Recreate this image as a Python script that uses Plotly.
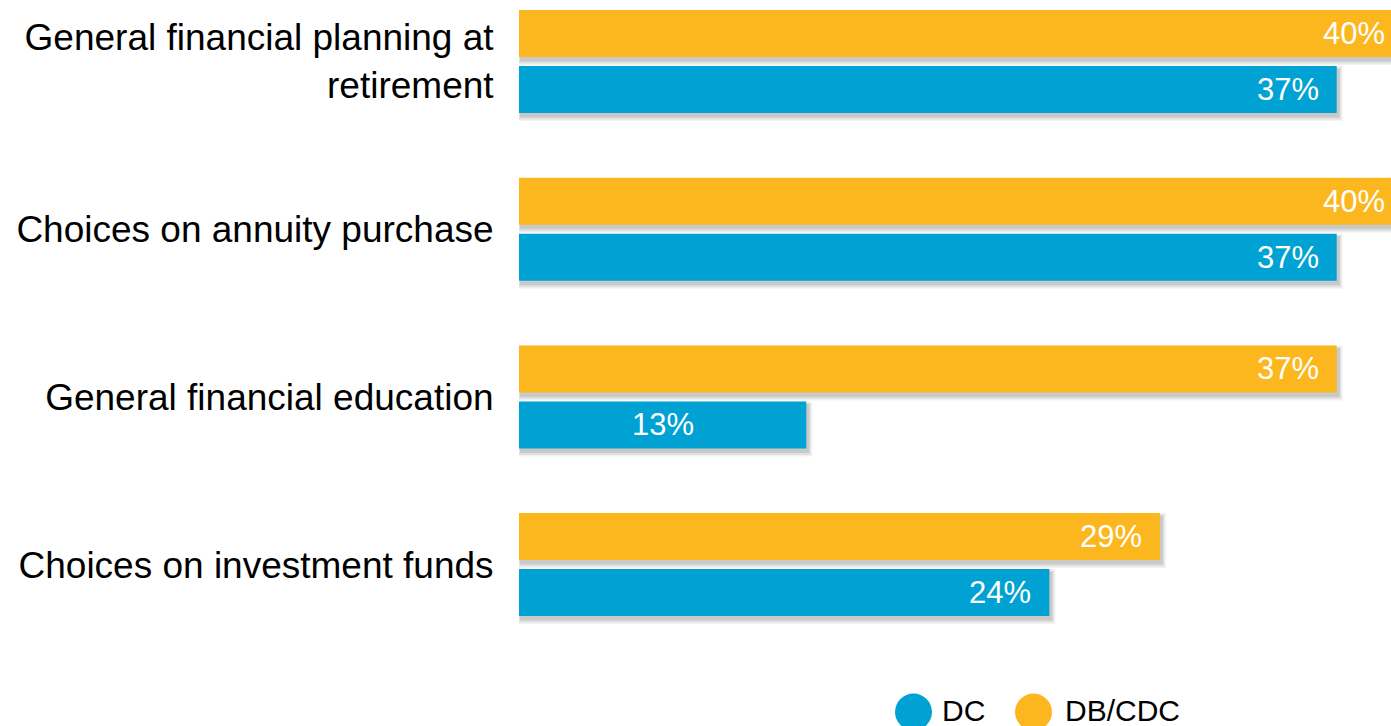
import plotly.graph_objects as go

# Categories listed bottom-to-top as they appear on the y axis
categories = [
    "Choices on investment funds",
    "General financial education",
    "Choices on annuity purchase",
    "General financial planning at<br>retirement",
]
series_names = ["DC", "DB/CDC"]
dc_values = [24, 13, 37, 37]
db_cdc_values = [29, 37, 40, 40]

BLUE = "#00A2D3"
ORANGE = "#FDB71E"
FONT = "Arial, 'Liberation Sans', sans-serif"

W, H = 1391, 726
M_L, M_R, M_T, M_B = 519, 0, 0, 76
PLOT_W = W - M_L - M_R
PLOT_H = H - M_T - M_B

PX_PER_PCT = 22.1          # horizontal scale
PX_PER_CAT = 167.7         # distance between category rows
TOP_ROW_PX = 61.5          # centre of the top row from the plot top
BAR_PX = 47
GAP_PX = 9
LABEL_PAD = 16

x_max = PLOT_W / PX_PER_PCT
n = len(categories)
y_top = (n - 1) + TOP_ROW_PX / PX_PER_CAT
y_bottom = (n - 1) - (PLOT_H - TOP_ROW_PX) / PX_PER_CAT

bar_w = BAR_PX / PX_PER_CAT
half = (GAP_PX / 2 + BAR_PX / 2) / PX_PER_CAT
offsets = {"DC": -half - bar_w / 2, "DB/CDC": half - bar_w / 2}
series = [("DC", dc_values, BLUE), ("DB/CDC", db_cdc_values, ORANGE)]

fig = go.Figure()

# soft drop shadows under each bar
shadow_layers = [(4.0, 2.0, 4.0, 0.05), (2.5, 2.0, 4.0, 0.07), (1.0, 2.0, 3.5, 0.10)]
for name, vals, _ in series:
    for grow, dx, dy, alpha in shadow_layers:
        gx = grow / PX_PER_PCT
        fig.add_trace(go.Bar(
            y=categories,
            x=[v + 2 * gx for v in vals],
            base=-gx + dx / PX_PER_PCT,
            orientation="h",
            offset=offsets[name] - (grow + dy) / PX_PER_CAT,
            width=bar_w + 2 * grow / PX_PER_CAT,
            marker=dict(color=f"rgba(0,0,0,{alpha})", line=dict(width=0)),
            hoverinfo="skip",
            showlegend=False,
        ))

for name, vals, color in series:
    fig.add_trace(go.Bar(
        y=categories,
        x=vals,
        name=name,
        orientation="h",
        offset=offsets[name],
        width=bar_w,
        marker=dict(color=color, line=dict(width=0)),
        showlegend=False,
    ))

# value labels: inside the bar end, centred for short bars.
# Bars running past the right edge keep their label anchored to the
# true bar end (pinned to the edge and shifted in pixels).
annotations = []
for name, vals, _ in series:
    shift = (offsets[name] + bar_w / 2) * PX_PER_CAT
    for cat, v in zip(categories, vals):
        if v < 20:
            ax, anchor, xs = v / 2, "center", 0
        else:
            ax = min(v, x_max)
            anchor = "right"
            xs = (v - ax) * PX_PER_PCT - LABEL_PAD
        annotations.append(dict(
            x=ax, y=cat, xref="x", yref="y", text=f"{v}%",
            showarrow=False, xanchor=anchor, yanchor="middle",
            xshift=xs, yshift=shift,
            font=dict(family=FONT, size=31, color="white"),
        ))

# legend with round keys below the plot
def px_to_paper_x(px):
    return (px - M_L) / PLOT_W

def px_to_paper_y(py):
    return (M_T + PLOT_H - py) / PLOT_H

legend_y = px_to_paper_y(710)
shapes = []
for (name, _, color), cx, tx in zip(series, [913.5, 1033.5], [940, 1063]):
    shapes.append(dict(
        type="circle", xref="paper", yref="paper",
        xsizemode="pixel", ysizemode="pixel",
        xanchor=px_to_paper_x(cx), yanchor=px_to_paper_y(712),
        x0=-18.5, x1=18.5, y0=-18.5, y1=18.5,
        fillcolor=color, line=dict(width=0),
    ))
    annotations.append(dict(
        x=px_to_paper_x(tx), y=legend_y, xref="paper", yref="paper",
        text=name, showarrow=False, xanchor="left", yanchor="middle",
        font=dict(family=FONT, size=30, color="black"),
    ))

fig.update_layout(
    width=W, height=H,
    margin=dict(l=M_L, r=M_R, t=M_T, b=M_B, pad=0),
    barmode="overlay",
    plot_bgcolor="white", paper_bgcolor="white",
    showlegend=False,
    annotations=annotations,
    shapes=shapes,
    xaxis=dict(range=[0, x_max], visible=False, showgrid=False, zeroline=False),
    yaxis=dict(
        type="category", categoryorder="array", categoryarray=categories,
        range=[y_bottom, y_top],
        showgrid=False, zeroline=False, showline=False,
        ticks="outside", ticklen=17, tickcolor="rgba(0,0,0,0)",
        tickfont=dict(family=FONT, size=37, color="black"),
    ),
)

fig.write_html("out.html")
